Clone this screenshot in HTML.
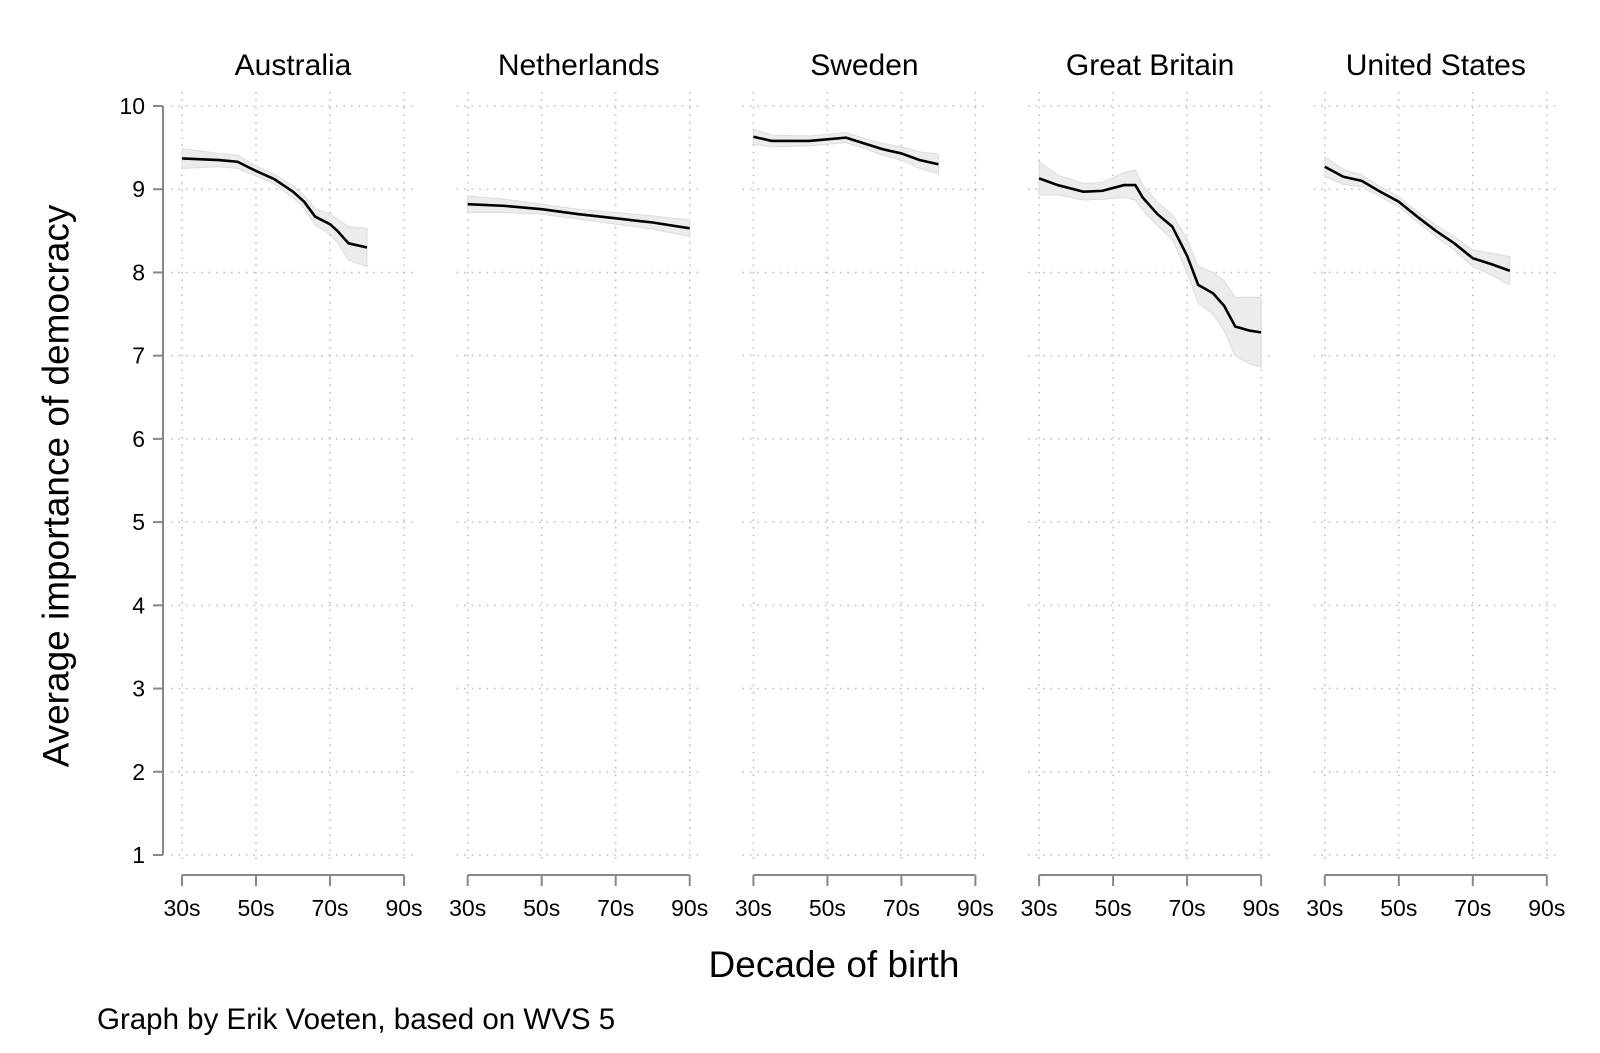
<!DOCTYPE html>
<html><head><meta charset="utf-8"><style>
html,body{margin:0;padding:0;background:#fff;}
svg{display:block;font-family:"Liberation Sans",Arial,sans-serif;}
</style></head><body>
<svg id="c" width="1600" height="1053" viewBox="0 0 1600 1053">
<text x="56" y="486" font-size="37" text-anchor="middle" transform="rotate(-90 56 486)" dominant-baseline="central">Average importance of democracy</text>
<text x="834" y="977" font-size="37" text-anchor="middle">Decade of birth</text>
<text x="97" y="1029" font-size="29.5">Graph by Erik Voeten, based on WVS 5</text>
</svg>
<script>
const countries = ["Australia","Netherlands","Sweden","Great Britain","United States"];
const yTicks = [1,2,3,4,5,6,7,8,9,10];
const xTicks = [30,50,70,90];
const xTickLabels = ["30s","50s","70s","90s"];
const ausX = [30,40,45,50,55,60,63,66,70,72,75,80];
const ausY = [9.37,9.35,9.33,9.22,9.12,8.97,8.85,8.67,8.58,8.5,8.35,8.3];
const ausSE = [0.12,0.08,0.08,0.06,0.06,0.07,0.08,0.1,0.12,0.14,0.2,0.23];
const nldX = [30,40,50,60,70,80,90];
const nldY = [8.82,8.8,8.76,8.7,8.65,8.6,8.53];
const nldSE = [0.1,0.08,0.06,0.06,0.07,0.08,0.1];
const sweX = [30,35,45,50,55,60,65,70,75,80];
const sweY = [9.63,9.58,9.58,9.6,9.62,9.55,9.48,9.43,9.35,9.3];
const sweSE = [0.09,0.07,0.06,0.06,0.06,0.06,0.07,0.08,0.1,0.12];
const gbrX = [30,35,42,47,53,56,58,62,66,70,73,77,80,83,87,90];
const gbrY = [9.13,9.05,8.97,8.98,9.05,9.05,8.9,8.7,8.55,8.2,7.85,7.75,7.6,7.35,7.3,7.28];
const gbrSE = [0.2,0.12,0.1,0.1,0.15,0.18,0.15,0.14,0.15,0.2,0.22,0.25,0.3,0.35,0.4,0.42];
const usaX = [30,35,40,45,50,55,60,65,70,75,80];
const usaY = [9.27,9.15,9.1,8.97,8.85,8.67,8.5,8.35,8.17,8.1,8.02];
const usaSE = [0.12,0.09,0.07,0.06,0.06,0.06,0.07,0.08,0.1,0.13,0.17];
const seriesX=[ausX,nldX,sweX,gbrX,usaX], seriesY=[ausY,nldY,sweY,gbrY,usaY], seriesSE=[ausSE,nldSE,sweSE,gbrSE,usaSE];

const svg=document.getElementById('c'), NS='http://www.w3.org/2000/svg';
const Y0=855, Y10=106;
function yScale(v){return Y0-(v-1)*(Y0-Y10)/9;}
const panelLeft=182, panelStep=285.7, panelW=222;
function xScale(p,d){return panelLeft+p*panelStep+(d-30)/60*panelW;}
function mk(tag,attrs,parent){const e=document.createElementNS(NS,tag);for(const k in attrs)e.setAttribute(k,attrs[k]);(parent||svg).appendChild(e);return e;}

const yax=mk('g',{});


mk('line',{x1:163,x2:163,y1:yScale(10),y2:yScale(1),stroke:'#888','stroke-width':2},yax);
yTicks.forEach(t=>{
  mk('line',{x1:153,x2:163,y1:yScale(t),y2:yScale(t),stroke:'#888','stroke-width':2},yax);
  const tx=mk('text',{x:145,y:yScale(t)+8,'font-size':23,'text-anchor':'end'},yax);
  tx.textContent=t;
  
  
});

countries.forEach((name,p)=>{
  const g=mk('g',{});
  
  
  const xl=xScale(p,30)-11, xr=xScale(p,90)+12;
  yTicks.forEach(t=>mk('line',{x1:xl,x2:xr,y1:yScale(t),y2:yScale(t),stroke:'#bbb','stroke-width':1.5,'stroke-dasharray':'1.5 6'},g));
  xTicks.forEach(d=>mk('line',{x1:xScale(p,d),x2:xScale(p,d),y1:yScale(10)-14,y2:yScale(1)+6,stroke:'#bbb','stroke-width':1.5,'stroke-dasharray':'1.5 6'},g));
  const title=mk('text',{x:(xScale(p,30)+xScale(p,90))/2,y:75,'font-size':30,'text-anchor':'middle'},g);
  title.textContent=name;
  
  
  mk('line',{x1:xScale(p,30),x2:xScale(p,90),y1:875,y2:875,stroke:'#888','stroke-width':2},g);
  xTicks.forEach((d,i)=>{
    mk('line',{x1:xScale(p,d),x2:xScale(p,d),y1:875,y2:886,stroke:'#888','stroke-width':2},g);
    const tl=mk('text',{x:xScale(p,d),y:916,'font-size':23,'text-anchor':'middle'},g);
    tl.textContent=xTickLabels[i];
    
    
  });
  const X=seriesX[p],Yv=seriesY[p],S=seriesSE[p];
  let up=X.map((d,i)=>xScale(p,d)+','+yScale(Yv[i]+S[i]));
  let dn=X.map((d,i)=>xScale(p,d)+','+yScale(Yv[i]-S[i])).reverse();
  const band=mk('polygon',{points:up.concat(dn).join(' '),fill:'#ececec',stroke:'#dcdcdc','stroke-width':1},g);
  
  
  const line=mk('polyline',{points:X.map((d,i)=>xScale(p,d)+','+yScale(Yv[i])).join(' '),fill:'none',stroke:'#000','stroke-width':2.6,'stroke-linejoin':'round'},g);
  
  
});
</script>
</body></html>
